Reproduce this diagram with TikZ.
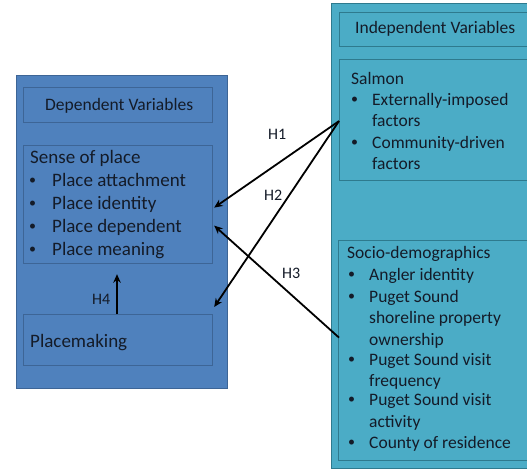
\documentclass[tikz,border=0pt]{standalone}
\usepackage{fontspec}
\setmainfont{Carlito}
\usetikzlibrary{arrows.meta,calc}
\definecolor{depfill}{HTML}{4F81BD}
\definecolor{depline}{HTML}{3D6596}
\definecolor{indfill}{HTML}{4BACC6}
\definecolor{indline}{HTML}{2E7A8E}
\definecolor{txt}{HTML}{141B28}
\tikzset{
  x=1pt,y=-1pt,
  panel/.style={draw, line width=1.2pt, anchor=north west, inner sep=0pt},
  deppanel/.style={panel, fill=depfill, draw=depline},
  indpanel/.style={panel, fill=indfill, draw=indline},
  line/.style={anchor=base west, inner sep=0pt, text=txt},
  big/.style={line, font=\fontsize{19}{23}\selectfont},
  mid/.style={line, font=\fontsize{17.5}{21}\selectfont},
  dot/.style={line, font=\fontsize{14}{16}\selectfont},
  hyp/.style={anchor=base west, inner sep=0pt, text=txt, font=\fontsize{16}{18}\selectfont},
  link/.style={line width=1.8pt, -{Stealth[length=8.5pt,width=7.5pt]}},
}
\begin{document}
\begin{tikzpicture}
\useasboundingbox (0,0) rectangle (527,469);
\fill[white] (0,0) rectangle (527,469);

% dependent variables panel
\node[deppanel, minimum width=211pt, minimum height=313pt] (dep) at (16,75) {};
\node[deppanel, minimum width=189pt, minimum height=35pt] (dephead) at (23,87) {};
\node[deppanel, minimum width=189pt, minimum height=118pt] (sense) at (23,145) {};
\node[deppanel, minimum width=189pt, minimum height=51pt] (place) at (23,314) {};
\node[mid] (deptitle) at (45,110) {Dependent Variables};
\node[big] (sensetitle) at (30,163) {Sense of place};
\foreach \y/\t [count=\i] in {186/Place attachment, 209/Place identity, 232/Place dependent, 255/Place meaning}{
  \node[dot] (sb\i) at (29,\y-1.5) {•};
  \node[big] (si\i) at (52,\y) {\t};
}
\node[big] (placetxt) at (30,347) {Placemaking};

% independent variables panel (runs off the right edge)
\begin{scope}
\clip (0,0) rectangle (527,469);
\node[indpanel, minimum width=220pt, minimum height=465pt] (ind) at (331,3) {};
\node[indpanel, minimum width=200pt, minimum height=34pt] (indhead) at (339,12) {};
\node[indpanel, minimum width=200pt, minimum height=121pt] (salmon) at (339,59) {};
\node[indpanel, minimum width=200pt, minimum height=220pt] (socio) at (338,240) {};
\end{scope}
\node[mid] (indtitle) at (355,33) {Independent Variables};
\node[mid] (salmontitle) at (351,84) {Salmon};
\foreach \y [count=\i] in {105, 148}{
  \node[dot] (mb\i) at (351,\y-1.5) {•};
}
\foreach \y/\t [count=\i] in {105/Externally-imposed, 126/factors, 148/Community-driven, 169/factors}{
  \node[mid] (mi\i) at (372,\y) {\t};
}
\node[mid] (sociotitle) at (347,258) {Socio-demographics};
\foreach \y [count=\i] in {280, 302, 365, 405, 448}{
  \node[dot] (cb\i) at (348,\y-1.5) {•};
}
\foreach \y/\t [count=\i] in {280/Angler identity, 302/Puget Sound, 323/shoreline property, 345/ownership, 365/Puget Sound visit, 386/frequency, 405/Puget Sound visit, 427/activity, 448/County of residence}{
  \node[mid] (ci\i) at (369,\y) {\t};
}

% hypotheses
\coordinate (s1) at ($(salmon.west)+(0,1)$);
\coordinate (s3) at ($(socio.west)+(1,-13)$);
\coordinate (e1) at ($(sense.east)+(1,3)$);
\coordinate (e3) at ($(sense.east)+(1,21)$);
\coordinate (e2) at ($(place.north east)+(1,-7)$);
\coordinate (e4) at ($(sense.south -| 117,0)+(0,10)$);
\draw[link] (s1) -- (e1);
\draw[link] (s1) -- (e2);
\draw[link] (s3) -- (e3);
\draw[link] (place.north -| 117,0) -- (e4);
\node[hyp] (h1) at (268,139) {H1};
\node[hyp] (h2) at (264,200) {H2};
\node[hyp] (h3) at (282,278) {H3};
\node[hyp] (h4) at (92,304) {H4};
\end{tikzpicture}
\end{document}
